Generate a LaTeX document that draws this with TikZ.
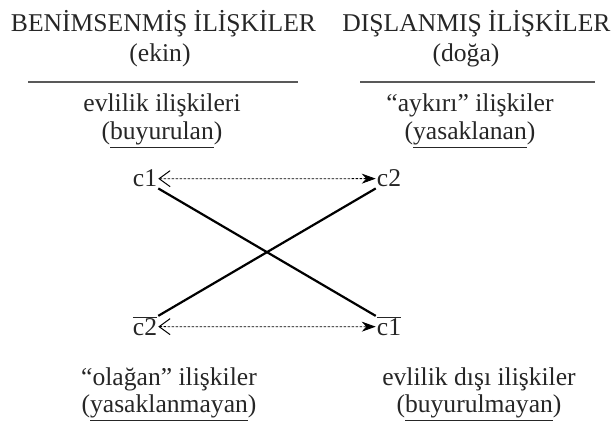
\documentclass[tikz,border=0pt]{standalone}
\usepackage{fontspec}
\setmainfont{Liberation Serif}
\usetikzlibrary{arrows.meta}

\begin{document}
\begin{tikzpicture}[x=1pt,y=-1pt,
  txt/.style={font=\fontsize{25.6}{30}\selectfont, anchor=base, inner sep=0pt, text=black!85},
  corner/.style={font=\fontsize{25.6}{30}\selectfont, anchor=base, inner sep=1pt, text=black!85},
  headrule/.style={line width=1.8pt, black!65},
  cross/.style={line width=2.2pt},
  link/.style={dash pattern=on 2.5pt off 1.5pt, line width=0.8pt,
    {Straight Barb[length=11pt,width=16pt,line width=1pt]}-{Stealth[length=14pt,width=10pt]}}]
  \useasboundingbox (0,0) rectangle (613,427);
  % Left column heading
  \node[txt] (headL) at (163.5,32) {BENİMSENMİŞ İLİŞKİLER};
  \node[txt] (subL) at (160,62) {(ekin)};
  \draw[headrule] (28,82) coordinate (ruleLa) -- (298,82) coordinate (ruleLb);
  \node[txt] (topL) at (162,112) {evlilik ilişkileri};
  \node[txt] (topLb) at (162,140) {(\underline{buyurulan})};
  % Right column heading
  \node[txt] (headR) at (476.5,32) {DIŞLANMIŞ İLİŞKİLER};
  \node[txt] (subR) at (466,62) {(doğa)};
  \draw[headrule] (360,82) coordinate (ruleRa) -- (595,82) coordinate (ruleRb);
  \node[txt] (topR) at (470,112) {“aykırı” ilişkiler};
  \node[txt] (topRb) at (470,140) {(\underline{yasaklanan})};
  % The four corners of the square
  \node[corner] (c1) at (145,187) {c1};
  \node[corner] (c2) at (389,187) {c2};
  \node[corner] (nc2) at (145,336) {$\overline{\hbox{c2}}$};
  \node[corner] (nc1) at (389,336) {$\overline{\hbox{c1}}$};
  % Contraries (dashed) and contradictories (solid)
  \draw[link] (c1.east) -- (c2.west);
  \draw[link] (nc2.east) -- (nc1.west);
  \draw[cross] (c1.south east) -- (nc1.north west);
  \draw[cross] (nc2.north east) -- (c2.south west);
  % Bottom labels
  \node[txt] (botL) at (169,386) {“olağan” ilişkiler};
  \node[txt] (botLb) at (169,413) {(\underline{yasaklanmayan})};
  \node[txt] (botR) at (479,386) {evlilik dışı ilişkiler};
  \node[txt] (botRb) at (479,413) {(\underline{buyurulmayan})};
\end{tikzpicture}
\end{document}
